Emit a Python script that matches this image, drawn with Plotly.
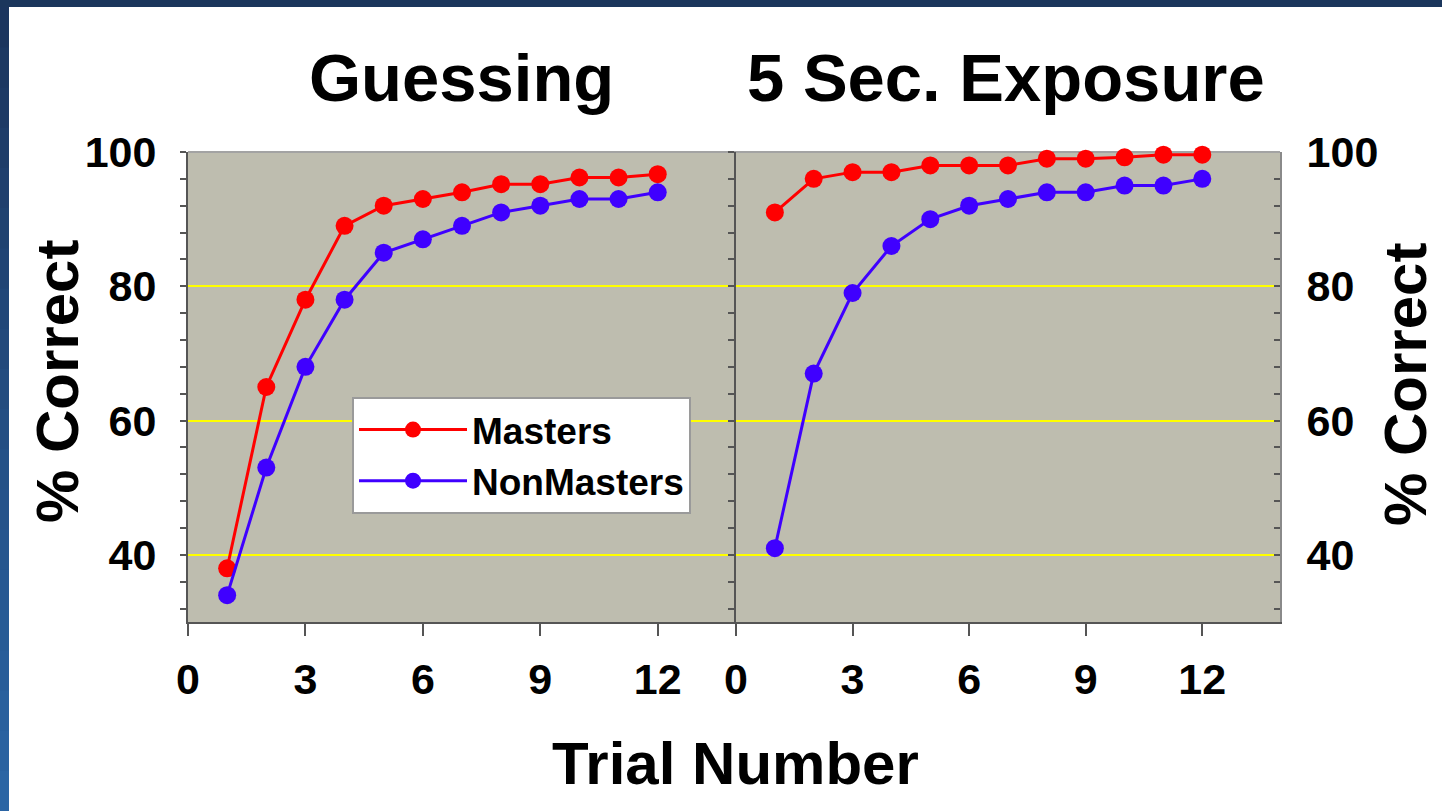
import plotly.graph_objects as go

# ---- data ----
trials = list(range(1, 13))
guess_masters = [38, 65, 78, 89, 92, 93, 94, 95.2, 95.2, 96.2, 96.2, 96.7]
guess_nonmasters = [34, 53, 68, 78, 85, 87, 89, 91, 92, 93, 93, 94]
expo_masters = [91, 96, 97, 97, 98, 98, 98, 99, 99, 99.2, 99.6, 99.6]
expo_nonmasters = [41, 67, 79, 86, 90, 92, 93, 94, 94, 95, 95, 96]
x_ticks = [0, 3, 6, 9, 12]
y_ticks = [40, 60, 80, 100]
panel_titles = ["Guessing", "5 Sec. Exposure"]
series_names = ["Masters", "NonMasters"]

RED = "#ff0000"
BLUE = "#3f00ff"
FONT = "Liberation Sans"
W, H = 1442, 811

def px(x):
    return x / W

def py(y):
    return 1 - y / H

fig = go.Figure()

def add(xaxis, yaxis, ys, color, name, show):
    fig.add_trace(go.Scatter(
        x=trials, y=ys, mode="lines+markers", name=name,
        xaxis=xaxis, yaxis=yaxis, showlegend=show, cliponaxis=False,
        line=dict(color=color, width=3),
        marker=dict(color=color, size=18),
    ))

add("x", "y", guess_masters, RED, series_names[0], True)
add("x", "y", guess_nonmasters, BLUE, series_names[1], True)
add("x2", "y2", expo_masters, RED, series_names[0], False)
add("x2", "y2", expo_nonmasters, BLUE, series_names[1], False)

xl = [px(188), px(736)]
xr = [px(736), px(1280)]
yd = [py(622), py(152)]

xtickfont = dict(family=FONT, size=43, color="black", weight="bold")
ytickfont = dict(family=FONT, size=43, color="black", weight="bold")
common_x = dict(range=[0, 14], tickmode="array", tickvals=x_ticks, ticks="outside",
                ticklen=12, tickwidth=2, tickcolor="#555", showline=True,
                linecolor="#555", linewidth=2, showgrid=False, zeroline=False,
                tickfont=xtickfont, ticklabelstandoff=6, fixedrange=True,
                automargin=False)
common_y = dict(range=[30, 100], tickmode="array", tickvals=y_ticks, ticks="outside",
                ticklen=6, tickwidth=2, tickcolor="#555", showline=True,
                linecolor="#555", linewidth=2, showgrid=True, gridcolor="#ffff00",
                gridwidth=2, zeroline=False, tickfont=ytickfont,
                minor=dict(dtick=4, tick0=0, ticks="outside", ticklen=6,
                           tickwidth=1.5, tickcolor="#555", showgrid=False),
                fixedrange=True, automargin=False)

fig.update_layout(
    template="none",
    width=W, height=H, autosize=False,
    margin=dict(l=0, r=0, t=0, b=0, pad=0, autoexpand=False),
    paper_bgcolor="white",
    plot_bgcolor="#bebdaf",
    xaxis=dict(domain=xl, anchor="y", **common_x),
    yaxis=dict(domain=yd, anchor="x", ticklabelstandoff=15, **common_y),
    xaxis2=dict(domain=xr, anchor="y2", **common_x),
    yaxis2=dict(domain=yd, anchor="x2", showticklabels=False, **common_y),
    yaxis3=dict(domain=yd, anchor="x2", overlaying="y2", side="right",
                range=[30, 100], tickmode="array", tickvals=y_ticks, ticks="inside",
                ticklen=6, tickwidth=2, tickcolor="#555", showline=True,
                linecolor="#8a8a8a", linewidth=2, showgrid=False, zeroline=False,
                tickfont=ytickfont, ticklabelstandoff=16, automargin=False,
                minor=dict(dtick=4, tick0=0, ticks="inside", ticklen=6,
                           tickwidth=1.5, tickcolor="#555"),
                fixedrange=True),
    legend=dict(x=px(352), y=py(397), xanchor="left", yanchor="top",
                bgcolor="white", bordercolor="#9a9a9a", borderwidth=2,
                font=dict(family=FONT, size=37, color="black", weight="bold"),
                itemwidth=108, tracegroupgap=0),
    showlegend=True,
)

# invisible helper trace so the right-hand axis is attached to the right panel
fig.add_trace(go.Scatter(x=[], y=[], xaxis="x2", yaxis="y3",
                         showlegend=False, hoverinfo="skip"))

title_font = dict(family=FONT, size=67, color="black", weight="bold")
label_font = dict(family=FONT, size=60, color="black", weight="bold")
annotations = [
    dict(text=panel_titles[0], x=px(461), y=py(78), font=title_font),
    dict(text=panel_titles[1], x=px(1006), y=py(78), font=title_font),
    dict(text="Trial Number", x=px(735), y=py(763), font=label_font),
    dict(text="% Correct", x=px(57), y=py(382), font=label_font, textangle=-90),
    dict(text="% Correct", x=px(1405), y=py(385), font=label_font, textangle=-90),
]
for a in annotations:
    a.update(xref="paper", yref="paper", showarrow=False, xanchor="center", yanchor="middle")
fig.update_layout(annotations=annotations)

# decorative slide border and panel top borders
shapes = []
shapes.append(dict(type="rect", xref="paper", yref="paper", x0=0, x1=1, y0=py(7), y1=1,
                   fillcolor="#1b365c", line=dict(width=0), layer="above"))
top_c = (27, 52, 92)
bot_c = (43, 102, 166)
n = 20
for i in range(n):
    t = (i + 0.5) / n
    c = tuple(int(round(top_c[k] + (bot_c[k] - top_c[k]) * t)) for k in range(3))
    shapes.append(dict(type="rect", xref="paper", yref="paper", x0=0, x1=px(9),
                       y0=py(7 + (H - 7) * (i + 1) / n) - 0.001,
                       y1=py(7 + (H - 7) * i / n),
                       fillcolor="rgb(%d,%d,%d)" % c, line=dict(width=0), layer="above"))
for xr_, yr_ in (("x domain", "y domain"), ("x2 domain", "y2 domain")):
    shapes.append(dict(type="line", xref=xr_, yref=yr_, x0=0, x1=1, y0=1, y1=1,
                       line=dict(color="#a3a3a3", width=2), layer="below"))
fig.update_layout(shapes=shapes)

fig.write_html(
    "out.html",
    config={"displayModeBar": False, "responsive": False},
    post_script="document.body.style.margin='0';document.body.style.padding='0';document.body.style.overflow='hidden';",
)
